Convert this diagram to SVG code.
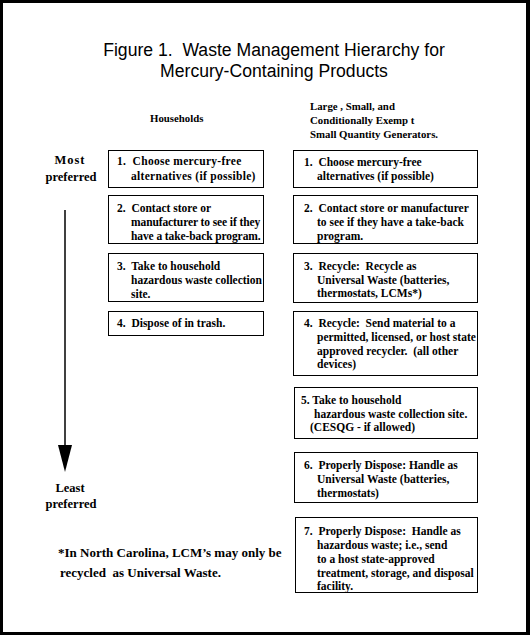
<svg xmlns="http://www.w3.org/2000/svg" width="530" height="635" viewBox="0 0 530 635">
<style>
text{white-space:pre}
.t{font-family:"Liberation Serif","Times New Roman",serif;font-weight:bold;font-size:11.5px;fill:#000}
.s{font-size:10.8px}
.m{font-size:12.5px}
.f{font-size:13px}
.h{font-family:"Liberation Sans",Arial,sans-serif;font-size:17.6px;fill:#000}
.b{fill:#fff;stroke:#000;stroke-width:1}
</style>
<rect x="0" y="0" width="530" height="635" fill="#000"/>
<rect x="3" y="3" width="523" height="629" fill="#fff"/>
<g id="title">
<text class="h" x="274" y="56" text-anchor="middle">Figure 1.  Waste Management Hierarchy for</text>
<text class="h" x="274" y="77" text-anchor="middle">Mercury-Containing Products</text>
</g>
<g id="headers">
<text class="t s" x="150" y="122">Households</text>
<text class="t s" x="310" y="110">Large , Small, and</text>
<text class="t s" x="310" y="124">Conditionally Exemp t</text>
<text class="t s" x="310" y="138">Small Quantity Generators.</text>
</g>
<g id="scale-labels">
<text class="t m" x="70" y="164" text-anchor="middle" letter-spacing="1">Most</text>
<text class="t m" x="71" y="181" text-anchor="middle">preferred</text>
<text class="t m" x="70" y="492" text-anchor="middle">Least</text>
<text class="t m" x="71" y="508" text-anchor="middle">preferred</text>
</g>
<g id="connectors">
<line x1="65" y1="210" x2="65" y2="448" stroke="#000" stroke-width="1.5"/>
<polygon points="58,445 72,445 65,472" fill="#000"/>
</g>
<g id="h1"><rect class="b" x="108.5" y="150.5" width="155" height="37"/>
<text class="t" x="117" y="165" letter-spacing="0.3">1.  Choose mercury-free</text>
<text class="t" x="131" y="180" letter-spacing="0.3">alternatives (if possible)</text></g>
<g id="h2"><rect class="b" x="108.5" y="195.5" width="155" height="48"/>
<text class="t" x="117" y="212">2.  Contact store or</text>
<text class="t" x="131" y="226" letter-spacing="-0.1">manufacturer to see if they</text>
<text class="t" x="131" y="240" letter-spacing="-0.1">have a take-back program.</text></g>
<g id="h3"><rect class="b" x="108.5" y="253.5" width="155" height="48"/>
<text class="t" x="117" y="270">3.  Take to household</text>
<text class="t" x="131" y="284">hazardous waste collection</text>
<text class="t" x="131" y="298">site.</text></g>
<g id="h4"><rect class="b" x="108.5" y="311.5" width="155" height="24"/>
<text class="t" x="117" y="327">4.  Dispose of in trash.</text></g>
<g id="g1"><rect class="b" x="293.5" y="150.5" width="184" height="37"/>
<text class="t" x="304" y="166">1.  Choose mercury-free</text>
<text class="t" x="317" y="180">alternatives (if possible)</text></g>
<g id="g2"><rect class="b" x="293.5" y="195.5" width="184" height="48"/>
<text class="t" x="304" y="212">2.  Contact store or manufacturer</text>
<text class="t" x="317" y="226">to see if they have a take-back</text>
<text class="t" x="317" y="240">program.</text></g>
<g id="g3"><rect class="b" x="293.5" y="253.5" width="184" height="49"/>
<text class="t" x="304" y="270">3.  Recycle:  Recycle as</text>
<text class="t" x="317" y="284">Universal Waste (batteries,</text>
<text class="t" x="317" y="297">thermostats, LCMs*)</text></g>
<g id="g4"><rect class="b" x="293.5" y="311.5" width="184" height="64"/>
<text class="t" x="304" y="327">4.  Recycle:  Send material to a</text>
<text class="t" x="317" y="341">permitted, licensed, or host state</text>
<text class="t" x="317" y="355">approved recycler.  (all other</text>
<text class="t" x="317" y="368">devices)</text></g>
<g id="g5"><rect class="b" x="294.5" y="387.5" width="183" height="51"/>
<text class="t" x="301" y="404">5. Take to household</text>
<text class="t" x="314" y="418">hazardous waste collection site.</text>
<text class="t" x="310" y="431">(CESQG - if allowed)</text></g>
<g id="g6"><rect class="b" x="294.5" y="452.5" width="183" height="50"/>
<text class="t" x="304" y="469">6.  Properly Dispose: Handle as</text>
<text class="t" x="317" y="483">Universal Waste (batteries,</text>
<text class="t" x="317" y="497">thermostats)</text></g>
<g id="g7"><rect class="b" x="295.5" y="517.5" width="182" height="75"/>
<text class="t" x="304" y="535">7.  Properly Dispose:  Handle as</text>
<text class="t" x="317" y="549">hazardous waste; i.e., send</text>
<text class="t" x="317" y="563">to a host state-approved</text>
<text class="t" x="317" y="577">treatment, storage, and disposal</text>
<text class="t" x="317" y="590">facility.</text></g>
<g id="footnote">
<text class="t f" x="58" y="557">*In North Carolina, LCM’s may only be</text>
<text class="t f" x="60" y="577">recycled  as Universal Waste.</text>
</g>
</svg>
